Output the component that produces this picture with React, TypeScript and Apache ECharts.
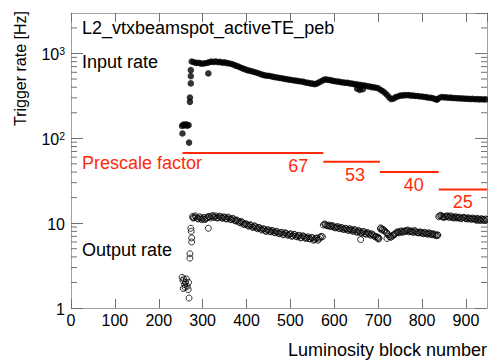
import React, { useEffect, useRef } from "react";
import * as echarts from "echarts";

const FONT = '"Liberation Sans", Arial, Helvetica, sans-serif';
const RED = "#ff2a0a";
const FRAME = "#a0a0a0";
const TICK = "#707070";

const chartTitle = "L2_vtxbeamspot_activeTE_peb";
const xAxisTitle = "Luminosity block number";
const yAxisTitle = "Trigger rate [Hz]";

const xTickLabels = [0, 100, 200, 300, 400, 500, 600, 700, 800, 900];
const yMinorTicks = [2, 3, 4, 5, 6, 7, 8, 9, 20, 30, 40, 50, 60, 70, 80, 90, 200, 300, 400, 500, 600, 700, 800, 900, 2000];

// Input rate [Hz] (luminosity block, rate)
const inputRate: [number, number][] = [
  [253, 140], [254, 114], [256, 145], [259, 142], [262, 146], [265, 141], [268, 143], [269, 89],
  [271, 303], [271, 269], [273, 444], [273, 541], [273, 636], [313, 582],
  [275, 805], [280, 790], [285, 772], [290, 776], [295, 764], [300, 758], [305, 768], [310, 772],
  [315, 790], [320, 801], [325, 794], [330, 806], [335, 789], [340, 796], [345, 779], [350, 786],
  [355, 770], [360, 766], [365, 751], [370, 741], [375, 719], [380, 706], [385, 689], [390, 671],
  [395, 655], [400, 641], [405, 629], [410, 621], [415, 609], [420, 601], [425, 589], [430, 576],
  [435, 564], [440, 556], [445, 547], [450, 546], [455, 539], [460, 533], [465, 524], [470, 521],
  [475, 514], [480, 511], [485, 504], [490, 499], [495, 493], [500, 489], [505, 484], [510, 481],
  [515, 475], [520, 471], [525, 467], [530, 463], [535, 454], [540, 451], [545, 444], [550, 441],
  [555, 435], [560, 441], [565, 456], [570, 471], [575, 486], [580, 496], [585, 489], [590, 486],
  [595, 479], [600, 473], [605, 467], [610, 466], [615, 459], [620, 456], [625, 451], [630, 451],
  [635, 444], [640, 441], [645, 435], [650, 433], [655, 427], [660, 426], [665, 419], [670, 419],
  [675, 411], [680, 409], [685, 401], [690, 399], [695, 394], [700, 389], [705, 374], [710, 361],
  [715, 344], [720, 326], [725, 304], [730, 290], [735, 294], [740, 306], [745, 311], [750, 319],
  [755, 319], [760, 323], [765, 322], [770, 323], [775, 319], [780, 319], [785, 315], [790, 315],
  [795, 311], [800, 311], [805, 307], [810, 306], [815, 301], [820, 301], [825, 296], [830, 291],
  [833, 285], [835, 289], [840, 301], [845, 307], [850, 304], [855, 304], [860, 301], [865, 302],
  [870, 298], [875, 299], [880, 296], [885, 297], [890, 294], [895, 295], [900, 292], [905, 293],
  [910, 290], [915, 292], [920, 289], [925, 290], [930, 288], [935, 289], [940, 287], [945, 288],
  [950, 286],
  [652, 385], [658, 372], [665, 379],
];

// Output rate [Hz] (luminosity block, rate)
const outputRate: [number, number][] = [
  [253, 2.3], [255, 2.1], [256, 1.7], [257, 2.2], [259, 1.9], [260, 1.75], [261, 2.0], [263, 2.2],
  [265, 1.8], [267, 1.65], [268, 2.0], [269, 1.31], [271, 4.35], [271, 3.87], [273, 8.7], [274, 8.0],
  [275, 6.7], [275, 6.0], [313, 8.7],
  [277, 12.0], [280, 11.6], [285, 11.8], [290, 11.2], [295, 11.5], [300, 11.3], [305, 11.0], [310, 11.6],
  [315, 11.9], [320, 12.1], [325, 11.7], [330, 12.2], [335, 11.6], [340, 11.9], [345, 11.4], [350, 11.7],
  [355, 11.2], [360, 11.5], [365, 11.0], [370, 11.2], [375, 10.6], [380, 10.6], [385, 10.1], [390, 10.2],
  [395, 9.6], [400, 9.7], [405, 9.2], [410, 9.4], [415, 8.9], [420, 9.1], [425, 8.6], [430, 8.8],
  [435, 8.3], [440, 8.5], [445, 8.0], [450, 8.3], [455, 7.9], [460, 8.1], [465, 7.7], [470, 7.9],
  [475, 7.5], [480, 7.8], [485, 7.4], [490, 7.6], [495, 7.2], [500, 7.5], [505, 7.1], [510, 7.3],
  [515, 6.9], [520, 7.2], [525, 6.8], [530, 7.0], [535, 6.6], [540, 6.9], [545, 6.5], [550, 6.7],
  [555, 6.4], [560, 6.7], [565, 6.5], [570, 7.0],
  [575, 9.5], [580, 9.6], [585, 9.3], [590, 9.2], [595, 9.4], [600, 8.9], [605, 9.0], [610, 8.7],
  [615, 8.9], [620, 8.5], [625, 8.7], [630, 8.3], [635, 8.6], [640, 8.2], [645, 8.4], [650, 7.9],
  [655, 8.2], [660, 7.7], [665, 8.0], [670, 7.5], [675, 7.8], [680, 7.4], [685, 7.5], [690, 7.1],
  [695, 7.0], [700, 6.8], [660, 6.4], [700, 6.5],
  [705, 8.6], [710, 8.5], [715, 8.1], [720, 7.6], [725, 7.0], [730, 6.9], [735, 7.3], [740, 7.6],
  [745, 7.8], [750, 8.0], [755, 7.8], [760, 8.1], [765, 8.2], [770, 7.9], [775, 8.1], [780, 7.8],
  [785, 8.0], [790, 7.7], [795, 7.9], [800, 7.6], [805, 7.8], [810, 7.5], [815, 7.7], [820, 7.4],
  [825, 7.5], [830, 7.2], [835, 7.3], [720, 6.6],
  [840, 12.2], [845, 12.0], [850, 11.7], [855, 12.1], [860, 11.8], [865, 12.2], [870, 11.6], [875, 11.9],
  [880, 11.5], [885, 11.8], [890, 11.4], [895, 11.7], [900, 11.3], [905, 11.6], [910, 11.2], [915, 11.5],
  [920, 11.1], [925, 11.4], [930, 11.0], [935, 11.3], [940, 11.0], [945, 11.2], [950, 10.9],
];

// Output rate [Hz], intermediate luminosity blocks
const outputRateB: [number, number][] = [
  [278, 11.5], [283, 12.2], [288, 11.4], [293, 11.9], [298, 11.0], [303, 11.7], [308, 11.3], [313, 12.0],
  [318, 11.5], [323, 12.3], [328, 11.8], [333, 11.5], [338, 12.1], [343, 11.6], [348, 11.9], [353, 11.3],
  [358, 11.8], [363, 11.1], [368, 11.4], [373, 10.8], [378, 10.9], [383, 10.3], [388, 10.5], [393, 9.8],
  [398, 9.9], [403, 9.4], [408, 9.6], [413, 9.0], [418, 9.3], [423, 8.8], [428, 8.9], [433, 8.5],
  [438, 8.6], [443, 8.1], [448, 8.4], [453, 8.0], [458, 8.2], [463, 7.8], [468, 8.0], [473, 7.6],
  [478, 7.7], [483, 7.3], [488, 7.7], [493, 7.3], [498, 7.4], [503, 7.0], [508, 7.4], [513, 7.0],
  [518, 7.1], [523, 6.7], [528, 7.1], [533, 6.8], [538, 6.7], [543, 6.6], [548, 6.8], [553, 6.3],
  [558, 6.6], [563, 6.3], [568, 6.8], [573, 6.9],
  [578, 9.8], [583, 9.4], [588, 9.5], [593, 9.1], [598, 9.2], [603, 8.8], [608, 9.1], [613, 8.6],
  [618, 8.8], [623, 8.4], [628, 8.6], [633, 8.2], [638, 8.4], [643, 8.0], [648, 8.3], [653, 7.8],
  [658, 8.0], [663, 7.6], [668, 7.9], [673, 7.4], [678, 7.6], [683, 7.2], [688, 7.3], [693, 6.9],
  [698, 6.8], [702, 6.6],
  [706, 8.8], [708, 8.3], [713, 8.3], [718, 7.8], [723, 7.3], [728, 6.8], [733, 7.1], [738, 7.4],
  [743, 7.9], [748, 7.7], [753, 8.1], [758, 7.9], [763, 8.0], [768, 8.3], [773, 8.0], [778, 7.9],
  [783, 8.2], [788, 7.8], [793, 7.7], [798, 7.8], [803, 7.5], [808, 7.7], [813, 7.4], [818, 7.6],
  [823, 7.3], [828, 7.4], [833, 7.1], [836, 7.2],
  [838, 11.9], [843, 12.4], [848, 11.8], [853, 11.9], [858, 12.2], [863, 11.7], [868, 11.9], [873, 11.5],
  [878, 11.8], [883, 11.6], [888, 11.3], [893, 11.6], [898, 11.5], [903, 11.2], [908, 11.4], [913, 11.1],
  [918, 11.3], [923, 11.0], [928, 11.2], [933, 10.9], [938, 11.1], [943, 10.8], [948, 11.0],
];

// Prescale factor segments
const prescaleStart = [254, 575, 704, 838];
const prescaleEnd = [575, 704, 838, 950];
const prescaleValue = [67, 53, 40, 25];

function yLabel(v: number): string {
  const e = Math.round(Math.log10(v));
  if (e === 0) return "{b|1}";
  if (e === 1) return "{b|10}";
  return "{b|10}{s|" + e + "}";
}

export default function App() {
  const ref = useRef<HTMLDivElement>(null);
  useEffect(() => {
    if (!ref.current) return;
    const chart = echarts.init(ref.current, null, { renderer: "svg" });
    const xAxisCommon = {
      type: "value",
      min: 0,
      max: 948,
      interval: 100,
      splitLine: { show: false },
      axisLine: { show: true, onZero: false, lineStyle: { color: FRAME, width: 1 } },
      axisTick: { show: true, inside: true, length: 9, lineStyle: { color: TICK, width: 1 } },
    };
    const yAxisCommon = {
      type: "log",
      logBase: 10,
      min: 1,
      max: 3000,
      splitLine: { show: false },
      axisLine: { show: true, onZero: false, lineStyle: { color: FRAME, width: 1 } },
      axisTick: { show: true, inside: true, length: 12, lineStyle: { color: TICK, width: 1 } },
    };
    const option: any = {
      animation: false,
      backgroundColor: "#ffffff",
      textStyle: { fontFamily: FONT },
      grid: { left: 71, right: 1, top: 13, bottom: 52, containLabel: false },
      xAxis: [
        {
          ...xAxisCommon,
          position: "bottom",
          axisLabel: {
            show: true,
            margin: 4,
            fontSize: 16,
            color: "#000",
            fontFamily: FONT,
            showMaxLabel: false,
            formatter: (v: number) => (xTickLabels.includes(v) ? String(v) : ""),
          },
        },
        { ...xAxisCommon, position: "top", axisLabel: { show: false } },
      ],
      yAxis: [
        {
          ...yAxisCommon,
          position: "left",
          axisLabel: {
            show: true,
            margin: 6,
            color: "#000",
            fontFamily: FONT,
            showMaxLabel: false,
            formatter: (v: number) => yLabel(v),
            rich: {
              b: { fontSize: 16, lineHeight: 16, padding: [2, 0, 0, 0], fontFamily: FONT, color: "#000" },
              s: { fontSize: 10.5, lineHeight: 10, verticalAlign: "top", fontFamily: FONT, color: "#000" },
            },
          },
        },
        { ...yAxisCommon, position: "right", axisLabel: { show: false } },
      ],
      series: [
        {
          type: "custom",
          silent: true,
          clip: false,
          z: 1,
          data: yMinorTicks.map((v) => [0, v]),
          renderItem: (params: any, api: any) => {
            const y = api.coord([0, api.value(1)])[1];
            const cs = params.coordSys;
            return {
              type: "group",
              children: [
                { type: "line", shape: { x1: cs.x, y1: y, x2: cs.x + 6, y2: y }, style: { stroke: TICK, lineWidth: 1 } },
                { type: "line", shape: { x1: cs.x + cs.width - 6, y1: y, x2: cs.x + cs.width, y2: y }, style: { stroke: TICK, lineWidth: 1 } },
              ],
            };
          },
        },
        {
          name: "Input rate",
          type: "scatter",
          symbol: "circle",
          symbolSize: 6.5,
          itemStyle: { color: "#000" },
          data: inputRate,
          z: 3,
        },
        {
          name: "Output rate",
          type: "scatter",
          symbol: "circle",
          symbolSize: 6,
          itemStyle: { color: "rgba(0,0,0,0)", borderColor: "#000", borderWidth: 1 },
          data: [...outputRate, ...outputRateB],
          z: 3,
        },
        {
          name: "Prescale factor",
          type: "custom",
          silent: true,
          z: 4,
          encode: { x: [0, 1], y: 2 },
          data: prescaleValue.map((v, i) => [prescaleStart[i], prescaleEnd[i], v]),
          renderItem: (params: any, api: any) => {
            const p1 = api.coord([api.value(0), api.value(2)]);
            const p2 = api.coord([api.value(1), api.value(2)]);
            const cs = params.coordSys;
            const x2 = Math.min(p2[0], cs.x + cs.width);
            return {
              type: "group",
              children: [
                { type: "line", shape: { x1: p1[0], y1: p1[1], x2, y2: p2[1] }, style: { stroke: RED, lineWidth: 2 } },
                {
                  type: "text",
                  x: p2[0] - 15,
                  y: p1[1] + 13,
                  style: {
                    text: String(api.value(2)),
                    fill: RED,
                    fontSize: 18,
                    fontFamily: FONT,
                    align: "right",
                    verticalAlign: "middle",
                  },
                },
              ],
            };
          },
        },
      ],
      graphic: [
        { type: "text", x: 82, y: 28, style: { text: chartTitle, fill: "#000", fontSize: 18, fontFamily: FONT, align: "left", verticalAlign: "middle" } },
        { type: "text", x: 82, y: 62, style: { text: "Input rate", fill: "#000", fontSize: 18, fontFamily: FONT, align: "left", verticalAlign: "middle" } },
        { type: "text", x: 82, y: 163, style: { text: "Prescale factor", fill: RED, fontSize: 18, fontFamily: FONT, align: "left", verticalAlign: "middle" } },
        { type: "text", x: 82, y: 250, style: { text: "Output rate", fill: "#000", fontSize: 18, fontFamily: FONT, align: "left", verticalAlign: "middle" } },
        { type: "text", x: 487, y: 350, style: { text: xAxisTitle, fill: "#000", fontSize: 18, fontFamily: FONT, align: "right", verticalAlign: "middle" } },
        { type: "text", x: 20, y: 11, rotation: Math.PI / 2, style: { text: yAxisTitle, fill: "#000", fontSize: 16, fontFamily: FONT, align: "right", verticalAlign: "middle" } },
      ],
    };
    chart.setOption(option);
    return () => chart.dispose();
  }, []);
  return <div ref={ref} style={{ position: "fixed", left: 0, top: 0, width: 488, height: 360, background: "#fff" }} />;
}
